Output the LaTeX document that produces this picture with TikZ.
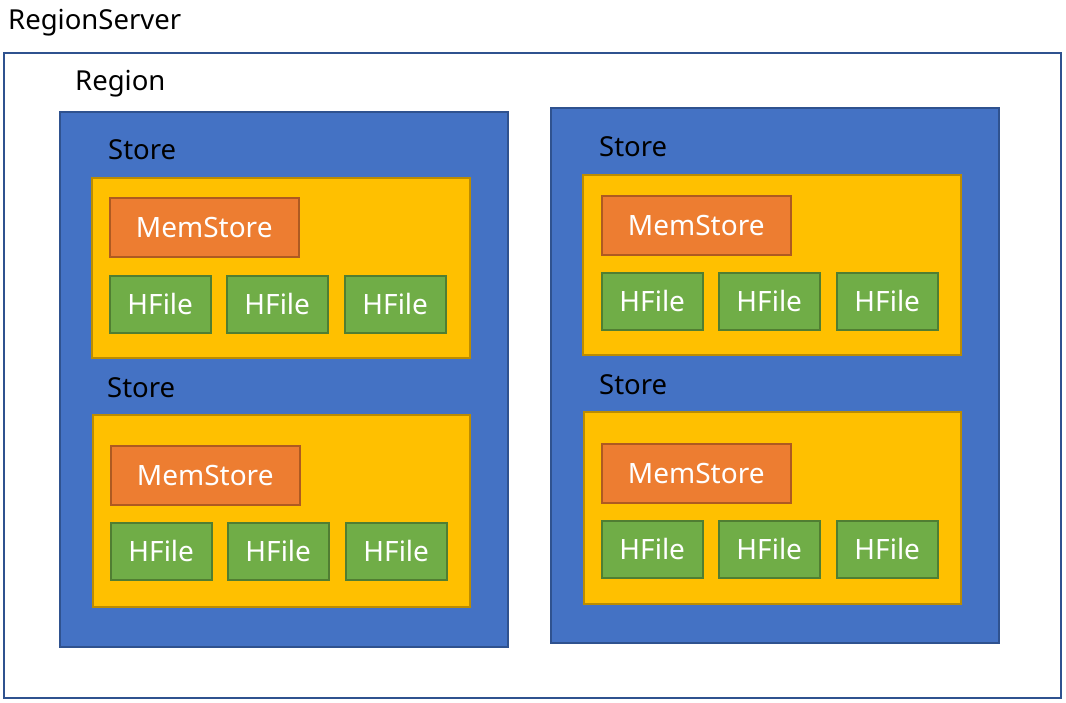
\documentclass[tikz,border=0pt]{standalone}
\usepackage{fontspec}
\setmainfont{Noto Sans}
\definecolor{rblue}{HTML}{4472C4}
\definecolor{rblueb}{HTML}{2F528F}
\definecolor{ryel}{HTML}{FFC000}
\definecolor{ryelb}{HTML}{BC8C00}
\definecolor{rora}{HTML}{ED7D31}
\definecolor{rorab}{HTML}{AE5A21}
\definecolor{rgre}{HTML}{70AD47}
\definecolor{rgreb}{HTML}{507E32}
\tikzset{
  box/.style={anchor=north west, inner sep=0pt, line width=1.5pt},
  serverbox/.style={box, draw=rblueb, fill=white},
  regionbox/.style={box, draw=rblueb, fill=rblue},
  storebox/.style={box, draw=ryelb, fill=ryel},
  membox/.style={box, draw=rorab, fill=rora, text=white, font=\fontsize{28}{32}\selectfont, minimum width=189pt, minimum height=59pt},
  hfbox/.style={box, draw=rgreb, fill=rgre, text=white, font=\fontsize{28}{32}\selectfont, minimum width=101pt, minimum height=57pt},
  lbl/.style={anchor=base west, inner sep=0pt, font=\fontsize{27.5}{32}\selectfont, text=black},
}
\begin{document}
\begin{tikzpicture}[x=1pt,y=-1pt]
\useasboundingbox (0,0) rectangle (1066,702);
\node[lbl] (rs) at (8,29) {RegionServer};
\node[serverbox, minimum width=1057pt, minimum height=645pt] (srv) at (3,52) {};
\node[lbl] (rg) at (75,90) {Region};
% left region
\node[regionbox, minimum width=448pt, minimum height=535pt] (r1) at (59,111) {};
\node[lbl] (s1l) at (108,159) {Store};
\node[storebox, minimum width=378pt, minimum height=180pt] (s1) at (91,177) {};
\node[membox] (m1) at (109,197) {MemStore};
\node[hfbox] (h11) at (109,275) {HFile};
\node[hfbox] (h12) at (226,275) {HFile};
\node[hfbox] (h13) at (344,275) {HFile};
\node[lbl] (s2l) at (107,397) {Store};
\node[storebox, minimum width=377pt, minimum height=192pt] (s2) at (92,414) {};
\node[membox] (m2) at (110,445) {MemStore};
\node[hfbox] (h21) at (110,522) {HFile};
\node[hfbox] (h22) at (227,522) {HFile};
\node[hfbox] (h23) at (345,522) {HFile};
% right region
\node[regionbox, minimum width=448pt, minimum height=535pt] (r2) at (550,107) {};
\node[lbl] (s3l) at (599,156) {Store};
\node[storebox, minimum width=378pt, minimum height=180pt] (s3) at (582,174) {};
\node[membox] (m3) at (601,195) {MemStore};
\node[hfbox] (h31) at (601,272) {HFile};
\node[hfbox] (h32) at (718,272) {HFile};
\node[hfbox] (h33) at (836,272) {HFile};
\node[lbl] (s4l) at (599,394) {Store};
\node[storebox, minimum width=377pt, minimum height=192pt] (s4) at (583,411) {};
\node[membox] (m4) at (601,443) {MemStore};
\node[hfbox] (h41) at (601,520) {HFile};
\node[hfbox] (h42) at (718,520) {HFile};
\node[hfbox] (h43) at (836,520) {HFile};
\end{tikzpicture}
\end{document}
